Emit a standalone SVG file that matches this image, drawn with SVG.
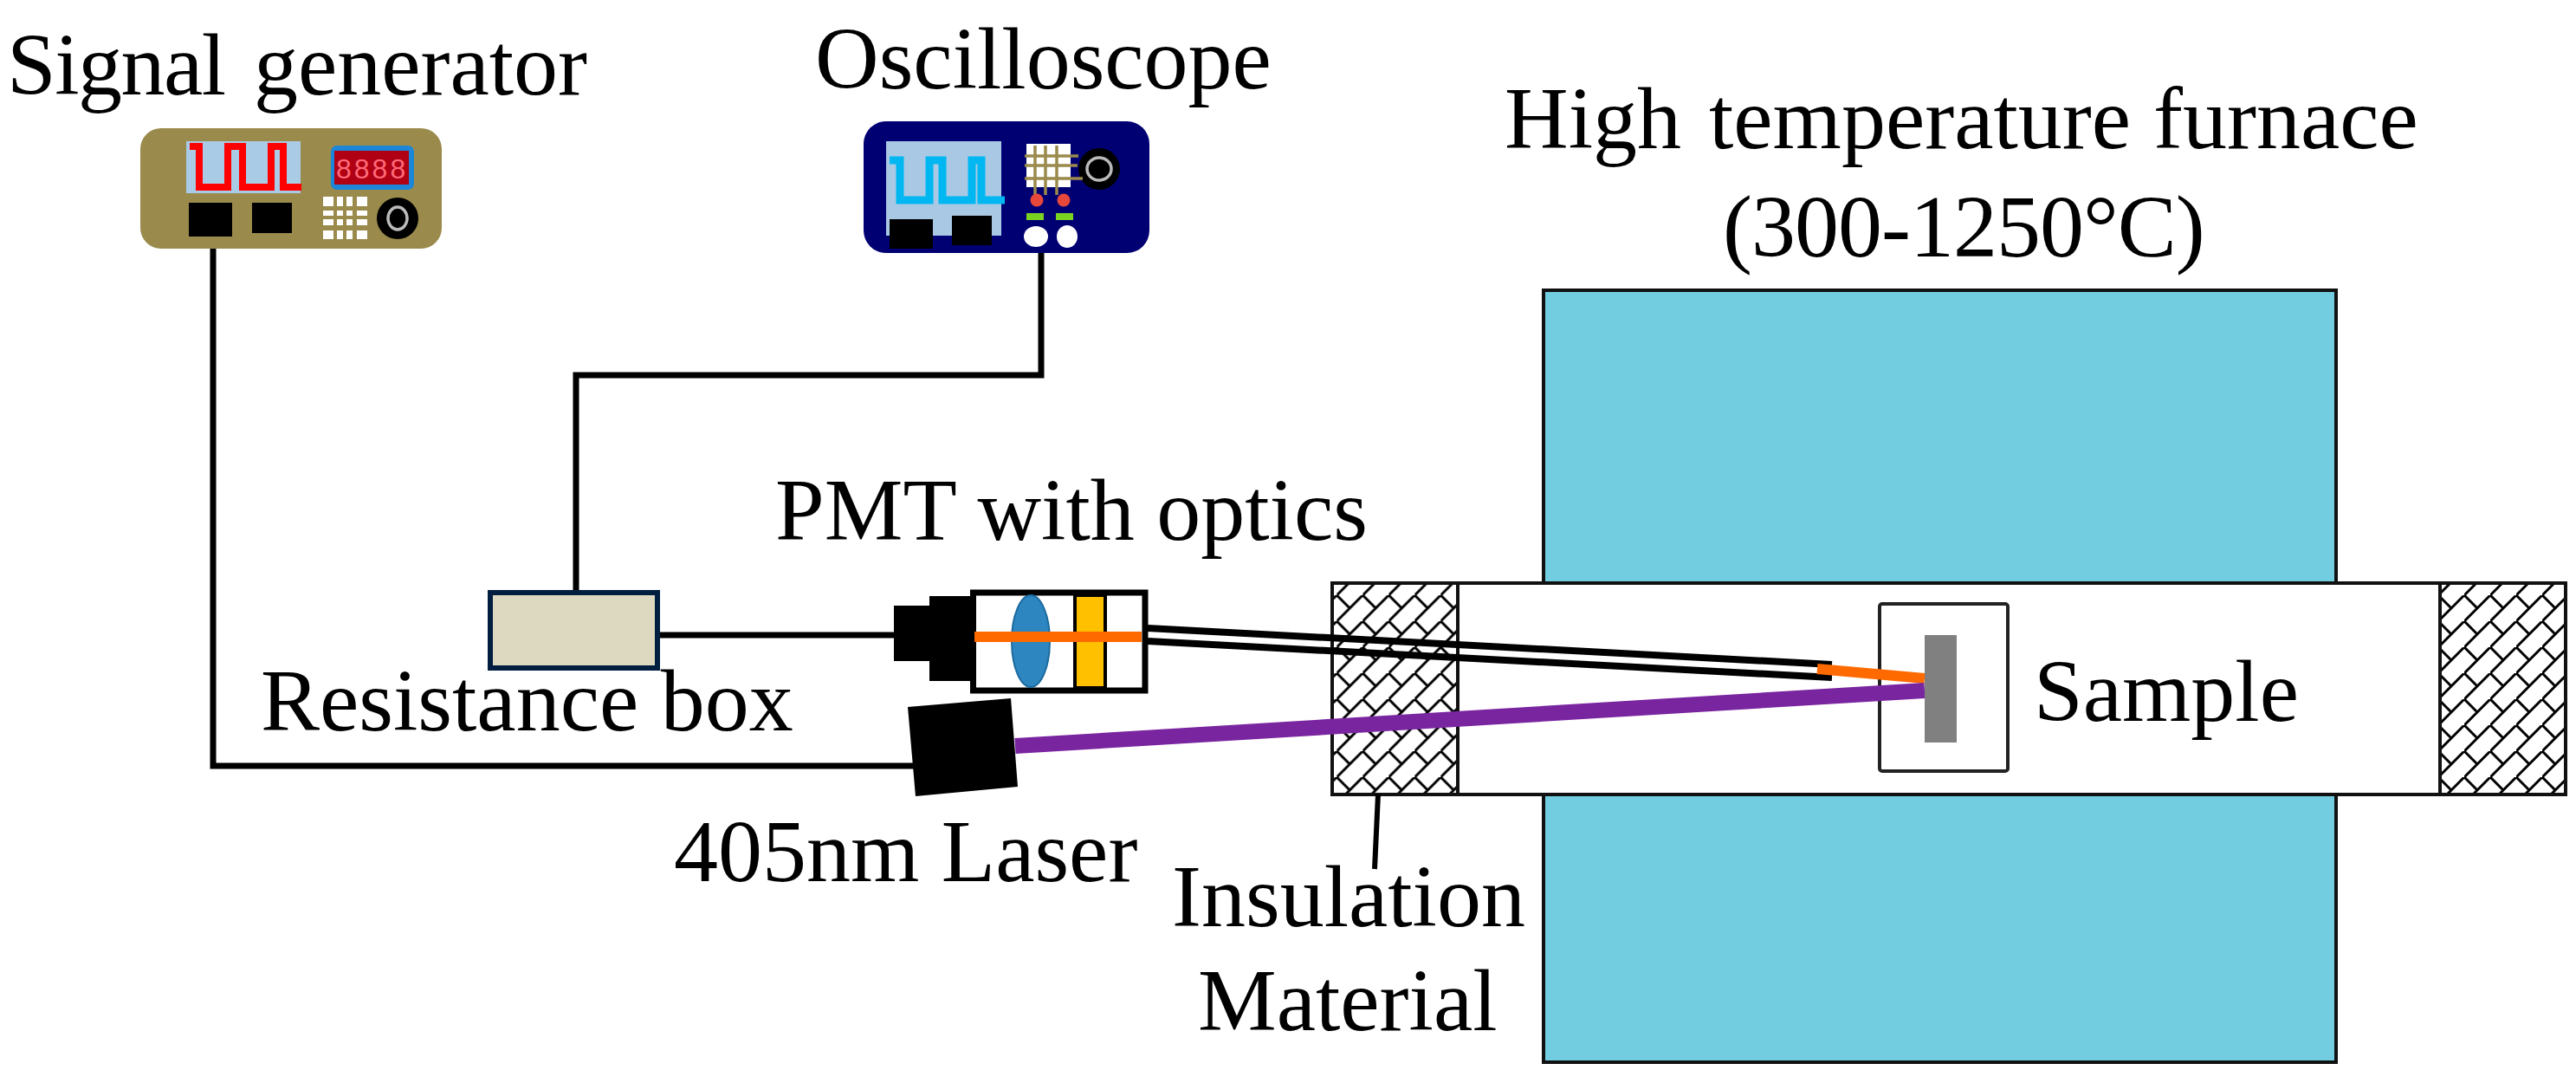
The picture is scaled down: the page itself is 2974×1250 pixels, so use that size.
<svg xmlns="http://www.w3.org/2000/svg" width="2974" height="1250" viewBox="0 0 2974 1250">
<style>
.t{font-family:"Liberation Serif","Times New Roman",serif;font-size:102px;fill:#000}
.w{fill:none;stroke:#000;stroke-width:7}
.k{fill:#000}
.hl{stroke:#000;stroke-width:3;fill:none}
</style>
<defs>
<pattern id="hatchL" width="30" height="30" patternUnits="userSpaceOnUse" patternTransform="translate(1543.3 687)"><path class="hl" d="M-3 33L33 -3M0 0L15 15"/></pattern>
<pattern id="hatchR" width="30" height="30" patternUnits="userSpaceOnUse" patternTransform="translate(2845 687)"><path class="hl" d="M-3 33L33 -3M0 0L15 15"/></pattern>
</defs>
<rect width="2974" height="1250" fill="#fff"/>
<g id="furnace"><rect x="1782" y="335" width="915" height="891" fill="#72CDE0" stroke="#111" stroke-width="4"/></g>
<g id="tube"><rect x="1538" y="673" width="1424" height="244" fill="#fff" stroke="#111" stroke-width="4"/></g>
<g id="insulation-left"><rect x="1538" y="673" width="145" height="244" fill="url(#hatchL)" stroke="#111" stroke-width="4"/></g>
<g id="insulation-right"><rect x="2817" y="673" width="145" height="244" fill="url(#hatchR)" stroke="#111" stroke-width="4"/></g>
<g id="connectors">
<path class="w" d="M246 280V884H1060"/>
<path class="w" d="M1202 288V433H665V682"/>
<path class="w" d="M762 733H1035"/>
<path d="M1591 917L1587 1003" fill="none" stroke="#000" stroke-width="6"/>
<path d="M1325 725L2115 767M1325 740L2115 782" fill="none" stroke="#000" stroke-width="8"/>
</g>
<g id="sample-holder"><rect x="2170" y="697" width="148" height="193" rx="3" fill="#fff" stroke="#222" stroke-width="4"/></g>
<g id="beams">
<path d="M2098 772L2222 783" stroke="#FF6A00" stroke-width="12" fill="none"/>
<path d="M1172 861L2222 797" stroke="#7A25A0" stroke-width="18" fill="none"/>
</g>
<g id="sample"><rect x="2222" y="733" width="37" height="124" fill="#808080"/></g>
<g id="laser"><polygon class="k" points="1048,816 1167,806 1175,908 1057,919"/></g>
<g id="pmt">
<rect class="k" x="1032" y="699" width="41" height="64"/>
<rect class="k" x="1073" y="688" width="50" height="98"/>
<rect x="1123.500" y="684" width="198.500" height="113" fill="#fff" stroke="#000" stroke-width="7"/>
<ellipse cx="1190" cy="740" rx="22" ry="53" fill="#2E86C1" stroke="#1B6A9E" stroke-width="2"/>
<rect x="1241" y="687" width="35" height="107" fill="#FFC000" stroke="#000" stroke-width="4"/>
<rect x="1125" y="729" width="193" height="12" fill="#FF6A00"/>
</g>
<g id="resistance-box"><rect x="566" y="684" width="193" height="87" fill="#DDD8C0" stroke="#001F40" stroke-width="6"/></g>
<g id="signal-generator">
<rect x="162" y="148" width="348" height="139" rx="24" fill="#9A8A4C"/>
<rect x="215" y="163" width="132" height="60" fill="#A9CBE6"/>
<path d="M219 169H230V216H263V169H280V216H313V169H327V216H348" fill="none" stroke="#F00" stroke-width="8"/>
<rect class="k" x="218" y="234" width="50" height="39"/>
<rect class="k" x="291" y="234" width="46" height="35"/>
<rect x="382" y="168" width="96" height="51" rx="7" fill="#1C86D8"/>
<rect x="386" y="174" width="86" height="39" fill="#B00014"/>
<text x="388" y="206" font-family="Liberation Sans,sans-serif" font-size="32" letter-spacing="3" fill="#FF6A78">8888</text>
<path fill="#fff" d="M373 227h12v11h-12zM389 227h7v11h-7zM400 227h7v11h-7zM412 227h12v11h-12zM373 243h12v6h-12zM389 243h7v6h-7zM400 243h7v6h-7zM412 243h12v6h-12zM373 253h12v7h-12zM389 253h7v7h-7zM400 253h7v7h-7zM412 253h12v7h-12zM373 266h12v10h-12zM389 266h7v10h-7zM400 266h7v10h-7zM412 266h12v10h-12z"/>
<circle class="k" cx="459" cy="252" r="24"/>
<ellipse cx="459" cy="252" rx="11" ry="13" fill="none" stroke="#bbb" stroke-width="3.500"/>
</g>
<g id="oscilloscope">
<rect x="997" y="140" width="330" height="152" rx="26" fill="#000072"/>
<rect x="1023" y="163" width="133" height="109" fill="#A9C8E4"/>
<path d="M1027 185H1039V231H1073V185H1088V231H1122V185H1133V231H1160" fill="none" stroke="#00B7F1" stroke-width="9"/>
<rect class="k" x="1027" y="253" width="50" height="34"/>
<rect class="k" x="1099" y="249" width="46" height="34"/>
<circle class="k" cx="1269" cy="195" r="24"/>
<ellipse cx="1269" cy="195" rx="14" ry="13" fill="none" stroke="#bbb" stroke-width="3.500"/>
<rect x="1185" y="166" width="51" height="50" fill="#fff"/>
<path d="M1195 168V225M1207 168V225M1220 168V225M1183 180H1245M1183 191H1244M1183 206H1250" fill="none" stroke="#9A8A4C" stroke-width="3.500"/>
<circle cx="1197" cy="231" r="7.500" fill="#E8483A"/>
<circle cx="1228" cy="231" r="7.500" fill="#E8483A"/>
<rect x="1185" y="246" width="20" height="8" fill="#7BD321"/>
<rect x="1219" y="246" width="20" height="8" fill="#7BD321"/>
<ellipse cx="1196" cy="273" rx="14" ry="12" fill="#fff"/>
<ellipse cx="1232" cy="273" rx="12" ry="13" fill="#fff"/>
</g>
<g id="labels">
<text class="t" x="8" y="109"><tspan letter-spacing="-1.500">Signal</tspan> <tspan x="293">generator</tspan></text>
<text class="t" x="941" y="102">Oscilloscope</text>
<text class="t" x="1737" y="171">High <tspan x="1973">temperature</tspan> <tspan x="2486">furnace</tspan></text>
<text class="t" x="1989" y="296" letter-spacing="-1">(300-1250°C)</text>
<text class="t" x="895" y="623">PMT with optics</text>
<text class="t" x="301" y="843">Resistance box</text>
<text class="t" x="2348" y="832">Sample</text>
<text class="t" x="778" y="1017">405nm Laser</text>
<text class="t" x="1353" y="1069">Insulation</text>
<text class="t" x="1383" y="1189">Material</text>
</g>
</svg>
